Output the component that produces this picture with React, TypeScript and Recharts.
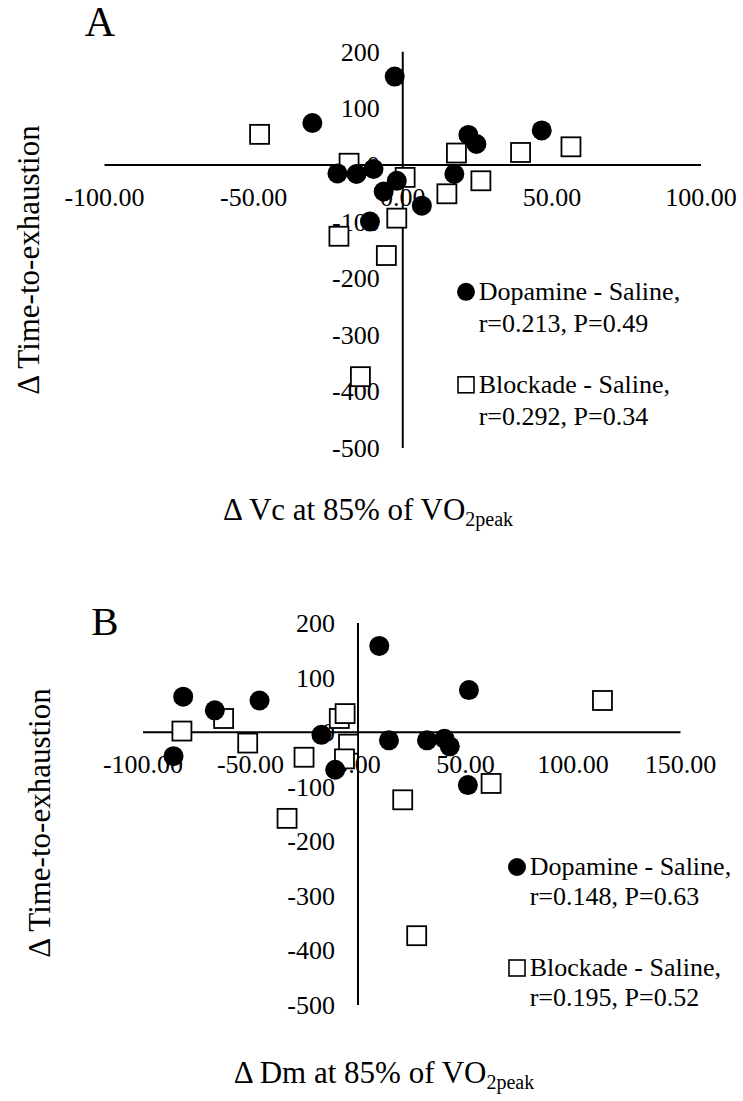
import { Legend, ReferenceDot, ReferenceLine, Scatter, ScatterChart, XAxis, YAxis } from "recharts";

const FONT = '"Liberation Serif", "Times New Roman", serif';

// Panel A: Δ Vc
const dopamineVcX = [-2.7, -30.3, 22.0, 24.7, 46.6, -21.9, -15.5, -9.8, 17.3, -2.0, -6.4, 6.4, -11.0];
const dopamineVcY = [156, 74, 53, 37, 61, -15, -16, -7, -16, -28, -47, -72, -100];
const blockadeVcX = [-48, -18, 0.8, 18, 39.5, 56.4, 26.2, 14.8, -2, -21.4, -5.5, -14.2];
const blockadeVcY = [54, 3, -22, 21, 22, 32, -28, -51, -94, -126, -160, -374];

// Panel B: Δ Dm
const dopamineDmX = [9.9, -81.3, -66.6, -45.8, 51.6, -17.0, 14.4, 32.1, 40.2, 42.7, -85.8, -10.6, 51.1];
const dopamineDmY = [158, 65, 40, 58, 77, -5, -15, -15, -12, -26, -44, -69, -97];
const blockadeDmX = [113.7, -81.9, -62.5, -51.3, -25.1, -8.7, -6.0, -4.4, -6.3, 61.9, 20.8, -33.0, 27.3];
const blockadeDmY = [58, 2, 25, -20, -46, 25, 34, -22, -49, -94, -124, -158, -373];

const xTicksA = [-100, -50, 0, 50, 100];
const xTicksB = [-100, -50, 0, 50, 100, 150];
const yTicks = [200, 100, 0, -100, -200, -300, -400, -500];

const seriesNames = ["Dopamine - Saline,", "Blockade - Saline,"];
const statsA = ["r=0.213, P=0.49", "r=0.292, P=0.34"];
const statsB = ["r=0.148, P=0.63", "r=0.195, P=0.52"];

const toPoints = (xs: number[], ys: number[]) => xs.map((x, i) => ({ x, y: ys[i] }));

const CircleMark = (props: any) => {
  const { cx, cy } = props;
  return <circle cx={cx} cy={cy} r={10} fill="#000" />;
};

const SquareMark = (props: any) => {
  const { cx, cy } = props;
  return <rect x={cx - 9.5} y={cy - 9.5} width={19} height={19} fill="#fff" stroke="#000" strokeWidth={1.8} />;
};

const XTickText = (props: any) => {
  const { viewBox, text } = props;
  const cx = viewBox.x + viewBox.width / 2;
  const cy = viewBox.y + viewBox.height / 2;
  return (
    <text x={cx} y={cy + 41} textAnchor="middle" fontFamily={FONT} fontSize={26} fill="#000">
      {text}
    </text>
  );
};

const YTickText = (props: any) => {
  const { viewBox, text } = props;
  const cx = viewBox.x + viewBox.width / 2;
  const cy = viewBox.y + viewBox.height / 2;
  return (
    <text x={cx - 23} y={cy + 9} textAnchor="end" fontFamily={FONT} fontSize={26} fill="#000">
      {text}
    </text>
  );
};

const LegendBox = ({ stats, lineH, gap }: { stats: string[]; lineH: number; gap: number }) => (
  <div style={{ fontFamily: FONT, fontSize: 26, color: "#000", lineHeight: `${lineH}px` }}>
    {seriesNames.map((name, i) => (
      <div key={name} style={{ display: "flex", alignItems: "flex-start", marginBottom: i === 0 ? gap : 0 }}>
        <svg width={20} height={lineH} style={{ flex: "none" }}>
          {i === 0 ? (
            <circle cx={10} cy={lineH / 2} r={9} fill="#000" />
          ) : (
            <rect x={2} y={lineH / 2 - 8} width={16} height={16} fill="#fff" stroke="#000" strokeWidth={1.6} />
          )}
        </svg>
        <div style={{ marginLeft: 3, whiteSpace: "nowrap" }}>
          {name}
          <br />
          {stats[i]}
        </div>
      </div>
    ))}
  </div>
);

interface PanelProps {
  top: number;
  height: number;
  margin: { top: number; right: number; bottom: number; left: number };
  xDomain: [number, number];
  xTicks: number[];
  dopamine: { x: number; y: number }[];
  blockade: { x: number; y: number }[];
  stats: string[];
  legendPos: { left: number; top: number };
  lineH: number;
  gap: number;
}

const Panel = (p: PanelProps) => (
  <div style={{ position: "absolute", left: 0, top: p.top }}>
    <ScatterChart width={743} height={p.height} margin={p.margin}>
      <XAxis type="number" dataKey="x" domain={p.xDomain} hide />
      <YAxis type="number" dataKey="y" domain={[-500, 200]} hide />
      <ReferenceLine y={0} stroke="#000" strokeWidth={2} />
      <ReferenceLine x={0} stroke="#000" strokeWidth={2} />
      {p.xTicks.map((t) => (
        <ReferenceDot key={"x" + t} x={t} y={0} r={0} fill="none" stroke="none" ifOverflow="visible"
          label={<XTickText text={t.toFixed(2)} />} />
      ))}
      {yTicks.map((t) => (
        <ReferenceDot key={"y" + t} x={0} y={t} r={0} fill="none" stroke="none" ifOverflow="visible"
          label={<YTickText text={String(t)} />} />
      ))}
      <Scatter name={seriesNames[1]} data={p.blockade} shape={SquareMark} isAnimationActive={false} />
      <Scatter name={seriesNames[0]} data={p.dopamine} shape={CircleMark} isAnimationActive={false} />
      <Legend layout="horizontal" verticalAlign="middle" align="center"
        wrapperStyle={{ left: p.legendPos.left, top: p.legendPos.top, width: 300 }}
        content={() => <LegendBox stats={p.stats} lineH={p.lineH} gap={p.gap} />} />
    </ScatterChart>
  </div>
);

export default function App() {
  return (
    <div style={{ position: "absolute", left: 0, top: 0, width: 743, height: 1101, background: "#fff" }}>
      <Panel top={0} height={560} margin={{ top: 51.7, right: 42, bottom: 112, left: 104.5 }}
        xDomain={[-100, 100]} xTicks={xTicksA}
        dopamine={toPoints(dopamineVcX, dopamineVcY)} blockade={toPoints(blockadeVcX, blockadeVcY)}
        stats={statsA} legendPos={{ left: 455.7, top: 276 }} lineH={31.6} gap={30} />
      <Panel top={580} height={521} margin={{ top: 43, right: 62.5, bottom: 96, left: 143 }}
        xDomain={[-100, 150]} xTicks={xTicksB}
        dopamine={toPoints(dopamineDmX, dopamineDmY)} blockade={toPoints(blockadeDmX, blockadeDmY)}
        stats={statsB} legendPos={{ left: 506.7, top: 271.7 }} lineH={30} gap={41.6} />
      <svg width={743} height={1101} style={{ position: "absolute", left: 0, top: 0, pointerEvents: "none" }}
        fontFamily={FONT} fill="#000">
        <text x={100} y={36} fontSize={42} textAnchor="middle">A</text>
        <text x={105} y={635} fontSize={41} textAnchor="middle">B</text>
        <text transform="translate(39,260) rotate(-90)" fontSize={31} textAnchor="middle">Δ Time-to-exhaustion</text>
        <text transform="translate(50,823) rotate(-90)" fontSize={31} textAnchor="middle">Δ Time-to-exhaustion</text>
        <text x={368} y={520} fontSize={31} textAnchor="middle">
          Δ Vc at 85% of VO<tspan fontSize={20} dy={6}>2peak</tspan>
        </text>
        <text x={384} y={1083} fontSize={31} textAnchor="middle">
          Δ Dm at 85% of VO<tspan fontSize={20} dy={6}>2peak</tspan>
        </text>
      </svg>
    </div>
  );
}
